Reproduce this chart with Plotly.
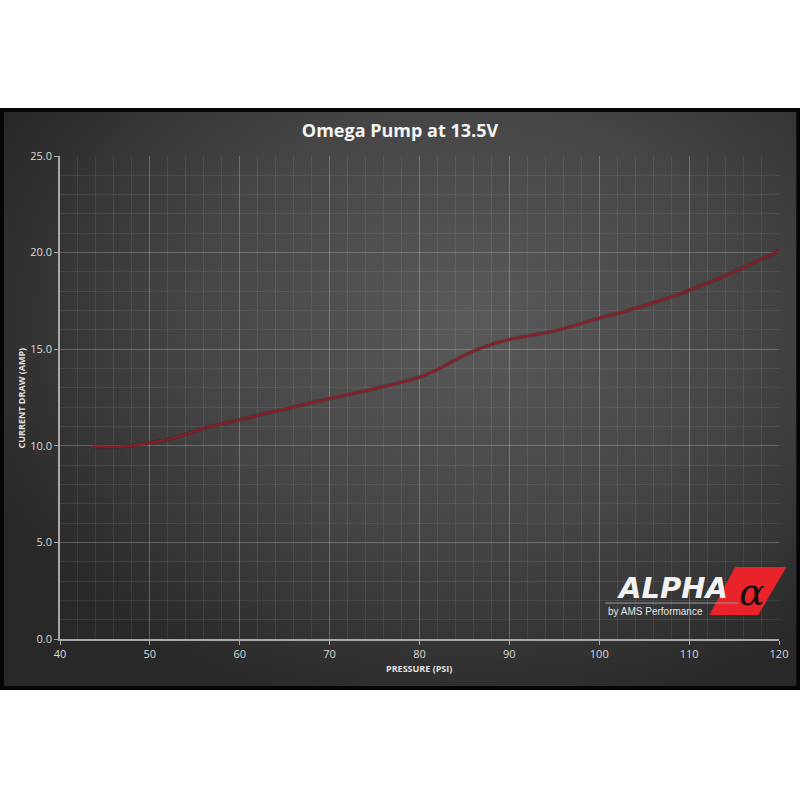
import base64
import plotly.graph_objects as go

# ---- data ----
pressure = [43.6, 45, 47, 50, 53, 56, 60, 65, 70, 75, 80, 82, 84, 86, 88, 90, 95, 100, 105, 110, 115, 120]
current = [9.95, 9.95, 9.97, 10.15, 10.45, 10.9, 11.35, 11.9, 12.45, 12.95, 13.55, 13.95, 14.45, 14.9, 15.25, 15.5, 15.95, 16.6, 17.25, 18.05, 19.0, 20.1]
x_ticks = [40, 50, 60, 70, 80, 90, 100, 110, 120]
y_ticks = [0, 5, 10, 15, 20, 25]

W, H = 800, 800
L, R, T, B = 60, 778.7, 156, 639
pw, ph = R - L, B - T


def px(xp):
    return (xp - L) / pw


def py(yp):
    return (B - yp) / ph


svg = """<svg xmlns='http://www.w3.org/2000/svg' width='800' height='800' viewBox='0 0 800 800'>
<defs><radialGradient id='g' cx='470' cy='320' r='480' gradientUnits='userSpaceOnUse' gradientTransform='translate(470 320) scale(1.1 0.85) translate(-470 -320)'>
<stop offset='0' stop-color='#5a5a5a'/><stop offset='0.55' stop-color='#444444'/><stop offset='1' stop-color='#282828'/></radialGradient></defs>
<rect width='800' height='800' fill='#ffffff'/>
<rect x='0' y='108' width='800' height='582' fill='#050505'/>
<rect x='4' y='112' width='792' height='574' fill='url(#g)'/>
</svg>"""
bg_uri = "data:image/svg+xml;base64," + base64.b64encode(svg.encode()).decode()

fig = go.Figure()
fig.add_trace(go.Scatter(x=pressure, y=current, mode="lines",
                         line=dict(color="rgba(90,20,25,0.35)", width=4, shape="spline", smoothing=0.8),
                         hoverinfo="skip", showlegend=False))
fig.add_trace(go.Scatter(x=pressure, y=current, mode="lines",
                         line=dict(color="#8a1d29", width=2, shape="spline", smoothing=0.8),
                         showlegend=False))

axis_font = dict(family="Open Sans, DejaVu Sans, sans-serif", size=11, color="#d8d8d8")

fig.update_xaxes(range=[40, 120], tickvals=x_ticks, ticktext=[str(v) for v in x_ticks],
                 showgrid=True, gridcolor="rgba(255,255,255,0.18)", gridwidth=1,
                 minor=dict(dtick=2, showgrid=True, gridcolor="rgba(255,255,255,0.08)", gridwidth=1),
                 showline=True, linecolor="#a8a8a8", linewidth=1.5,
                 ticks="outside", ticklen=4, tickcolor="#a8a8a8",
                 tickfont=axis_font, zeroline=False, fixedrange=True)
fig.update_yaxes(range=[0, 25], tickvals=y_ticks, ticktext=[f"{v:.1f}" for v in y_ticks],
                 showgrid=True, gridcolor="rgba(255,255,255,0.16)", gridwidth=1,
                 minor=dict(dtick=1, showgrid=True, gridcolor="rgba(255,255,255,0.08)", gridwidth=1),
                 showline=True, linecolor="#a8a8a8", linewidth=1.5,
                 ticks="outside", ticklen=4, tickcolor="#a8a8a8",
                 tickfont=axis_font, zeroline=False, fixedrange=True)

shapes = [
    # red logo parallelogram
    dict(type="path", xref="paper", yref="paper",
         path=f"M {px(735)},{py(567)} L {px(786)},{py(567)} L {px(758)},{py(615)} L {px(709)},{py(615)} Z",
         fillcolor="#e8232a", line=dict(width=0), layer="above"),
    # line under ALPHA
    dict(type="line", xref="paper", yref="paper", x0=px(605), x1=px(738), y0=py(603), y1=py(603),
         line=dict(color="#9a9a9a", width=1), layer="above"),
]

annotations = [
    dict(text="CURRENT DRAW (AMP)", xref="paper", yref="paper", x=px(22), y=py(397.5),
         textangle=-90, showarrow=False, xanchor="center", yanchor="middle",
         font=dict(family="Open Sans, DejaVu Sans, sans-serif", size=9, color="#e0e0e0", weight="bold")),
    dict(text="PRESSURE (PSI)", xref="paper", yref="paper", x=px(419), y=py(668),
         showarrow=False, xanchor="center", yanchor="middle",
         font=dict(family="Open Sans, DejaVu Sans, sans-serif", size=9, color="#e0e0e0", weight="bold")),
    dict(text="<b><i>ALPHA</i></b>", xref="paper", yref="paper", x=px(672), y=py(588),
         showarrow=False, xanchor="center", yanchor="middle", borderpad=0,
         font=dict(family="DejaVu Sans, sans-serif", size=29, color="#f2f2f2")),
    dict(text="<i>α</i>", xref="paper", yref="paper", x=px(752), y=py(592),
         showarrow=False, xanchor="center", yanchor="middle", borderpad=0,
         font=dict(family="DejaVu Serif, serif", size=38, color="#111111")),
    dict(text="by AMS Performance", xref="paper", yref="paper", x=px(655), y=py(611),
         showarrow=False, xanchor="center", yanchor="middle", borderpad=0,
         font=dict(family="Liberation Sans, Arial, sans-serif", size=10, color="#e6e6e6")),
]

fig.update_layout(
    width=W, height=H,
    margin=dict(l=L, r=W - R, t=T, b=H - B, pad=0),
    paper_bgcolor="#ffffff",
    plot_bgcolor="rgba(0,0,0,0)",
    title=dict(text="Omega Pump at 13.5V", x=0.5, xref="container", xanchor="center",
               y=1 - 131 / H, yref="container", yanchor="middle",
               font=dict(family="Open Sans, DejaVu Sans, sans-serif", size=18, color="#f4f4f4", weight="bold")),
    images=[dict(source=bg_uri, xref="paper", yref="paper", x=-L / pw, y=1 + T / ph,
                 sizex=W / pw, sizey=H / ph, xanchor="left", yanchor="top",
                 sizing="stretch", layer="below")],
    shapes=shapes,
    annotations=annotations,
    showlegend=False,
)

fig.write_html("out.html", config={"displayModeBar": False},
               post_script="document.body.style.margin='0';document.body.style.overflow='hidden';")
